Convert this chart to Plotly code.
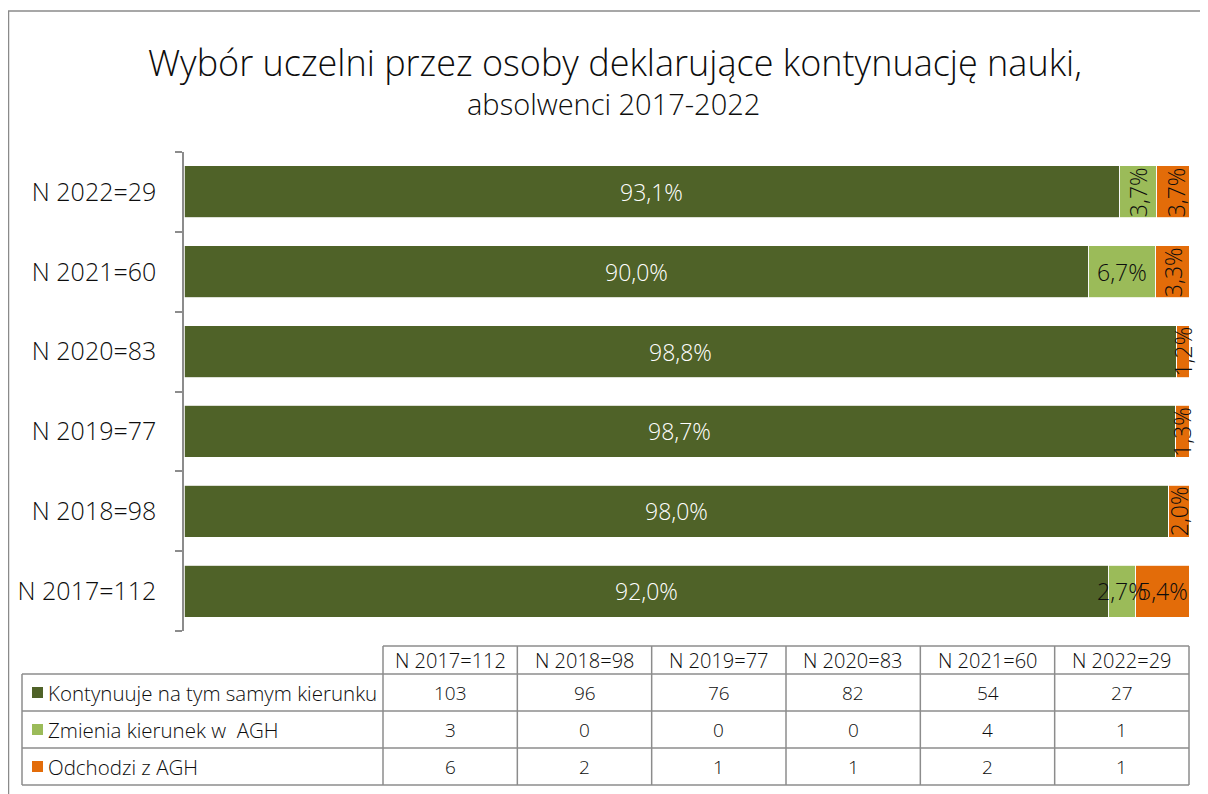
import plotly.graph_objects as go

# ---------------- data ----------------
years = ["N 2017=112", "N 2018=98", "N 2019=77", "N 2020=83", "N 2021=60", "N 2022=29"]
series_names = ["Kontynuuje na tym samym kierunku", "Zmienia kierunek w  AGH", "Odchodzi z AGH"]

# percentages as shown on the bars
cont_pct = [92.0, 98.0, 98.7, 98.8, 90.0, 93.1]
change_pct = [2.7, 0.0, 0.0, 0.0, 6.7, 3.7]
leave_pct = [5.4, 2.0, 1.3, 1.2, 3.3, 3.7]

# counts shown in the data table
cont_n = [103, 96, 76, 82, 54, 27]
change_n = [3, 0, 0, 0, 4, 1]
leave_n = [6, 2, 1, 1, 2, 1]

title_main = "Wybór uczelni przez osoby deklarujące kontynuację nauki,"
title_sub = "absolwenci 2017-2022"

# ---------------- style ----------------
OFF = 8  # page body margin
W, H = 1208 - OFF, 794 - OFF
FONT = "Open Sans"
colors = ["#4F6228", "#9BBB59", "#E36C09"]
GRID = "#8c8c8c"
TXT = "#0d0d0d"
# labels drawn vertically (series index, year index)
rotated = {(1, 5), (2, 5), (2, 4), (2, 3), (2, 2), (2, 1)}


def X(px):
    return (px - OFF) / W


def Y(py):
    return 1 - (py - OFF) / H


pcts = [cont_pct, change_pct, leave_pct]
counts = [cont_n, change_n, leave_n]

fig = go.Figure()
for i, (name, vals) in enumerate(zip(series_names, pcts)):
    fig.add_trace(go.Bar(
        y=years, x=vals, name=name, orientation="h",
        marker=dict(color=colors[i], line=dict(color="white", width=0.8)),
        hoverinfo="x+name",
    ))

annotations = []
# bar labels
for j, yr in enumerate(years):
    start = 0.0
    for i in range(3):
        v = pcts[i][j]
        if v > 0:
            lab = f"{v:.1f}".replace(".", ",") + "%"
            annotations.append(dict(
                x=start + v / 2, y=yr, xref="x", yref="y", text=lab,
                showarrow=False, textangle=-90 if (i, j) in rotated else 0,
                font=dict(family=FONT, size=23, weight=300,
                          color="white" if i == 0 else TXT),
                xanchor="center", yanchor="middle",
            ))
        start += v

# titles
annotations.append(dict(x=X(615), y=Y(62), xref="paper", yref="paper", text=title_main,
                        showarrow=False, xanchor="center", yanchor="middle",
                        font=dict(family=FONT, size=36, weight=300, color=TXT)))
annotations.append(dict(x=X(613), y=Y(104), xref="paper", yref="paper", text=title_sub,
                        showarrow=False, xanchor="center", yanchor="middle",
                        font=dict(family=FONT, size=29, weight=300, color=TXT)))

shapes = []
# outer border
shapes.append(dict(type="line", xref="paper", yref="paper", x0=X(8.5), x1=X(8.5), y0=Y(11), y1=Y(794),
                   line=dict(color="#8a8a8a", width=1.5)))
shapes.append(dict(type="line", xref="paper", yref="paper", x0=X(8), x1=X(1208), y0=Y(11), y1=Y(11),
                   line=dict(color="#8a8a8a", width=1.5)))

# data table
col_edges = [383 + k * (1189 - 383) / 6 for k in range(7)]
row_edges = [646, 674, 711, 748, 785]
left = 22
tl = dict(color=GRID, width=1.5)
shapes.append(dict(type="line", xref="paper", yref="paper", x0=X(col_edges[0]), x1=X(col_edges[-1]),
                   y0=Y(row_edges[0]), y1=Y(row_edges[0]), line=tl))
for r in row_edges[1:]:
    shapes.append(dict(type="line", xref="paper", yref="paper", x0=X(left), x1=X(col_edges[-1]),
                       y0=Y(r), y1=Y(r), line=tl))
shapes.append(dict(type="line", xref="paper", yref="paper", x0=X(left), x1=X(left),
                   y0=Y(row_edges[1]), y1=Y(row_edges[-1]), line=tl))
for c in col_edges:
    shapes.append(dict(type="line", xref="paper", yref="paper", x0=X(c), x1=X(c),
                       y0=Y(row_edges[0]), y1=Y(row_edges[-1]), line=tl))

hfont = dict(family=FONT, size=20, weight=300, color=TXT)
tfont = dict(family=FONT, size=19, weight=300, color=TXT)
lfont = dict(family=FONT, size=20.5, weight=300, color=TXT)
for k, yr in enumerate(years):
    cx = (col_edges[k] + col_edges[k + 1]) / 2
    annotations.append(dict(x=X(cx), y=Y((row_edges[0] + row_edges[1]) / 2), xref="paper", yref="paper",
                            text=yr, showarrow=False, xanchor="center", yanchor="middle", font=hfont))
    for i in range(3):
        cy = (row_edges[i + 1] + row_edges[i + 2]) / 2
        annotations.append(dict(x=X(cx), y=Y(cy), xref="paper", yref="paper",
                                text=str(counts[i][k]), showarrow=False,
                                xanchor="center", yanchor="middle", font=tfont))
for i, name in enumerate(series_names):
    cy = (row_edges[i + 1] + row_edges[i + 2]) / 2
    shapes.append(dict(type="rect", xref="paper", yref="paper", x0=X(32), x1=X(43),
                       y0=Y(cy - 5.5), y1=Y(cy + 5.5), fillcolor=colors[i], line=dict(width=0)))
    annotations.append(dict(x=X(46), y=Y(cy), xref="paper", yref="paper", text=name,
                            showarrow=False, xanchor="left", yanchor="middle", font=lfont))

fig.update_layout(
    width=W, height=H,
    margin=dict(l=0, r=0, t=0, b=0),
    paper_bgcolor="white", plot_bgcolor="white",
    barmode="stack", bargap=0.35,
    showlegend=False,
    xaxis=dict(domain=[X(184), X(1189)], range=[0, 100], visible=False, fixedrange=True),
    yaxis=dict(domain=[Y(631), Y(152)], type="category", categoryorder="array", categoryarray=years,
               showline=True, linecolor=GRID, linewidth=1.5,
               ticks="outside", ticklen=7, tickcolor=GRID, tickwidth=1.5, tickson="boundaries",
               ticklabelstandoff=21,
               tickfont=dict(family=FONT, size=25, weight=300, color=TXT),
               showgrid=False, zeroline=False, fixedrange=True),
    annotations=annotations,
    shapes=shapes,
)

fig.write_html("out.html")
